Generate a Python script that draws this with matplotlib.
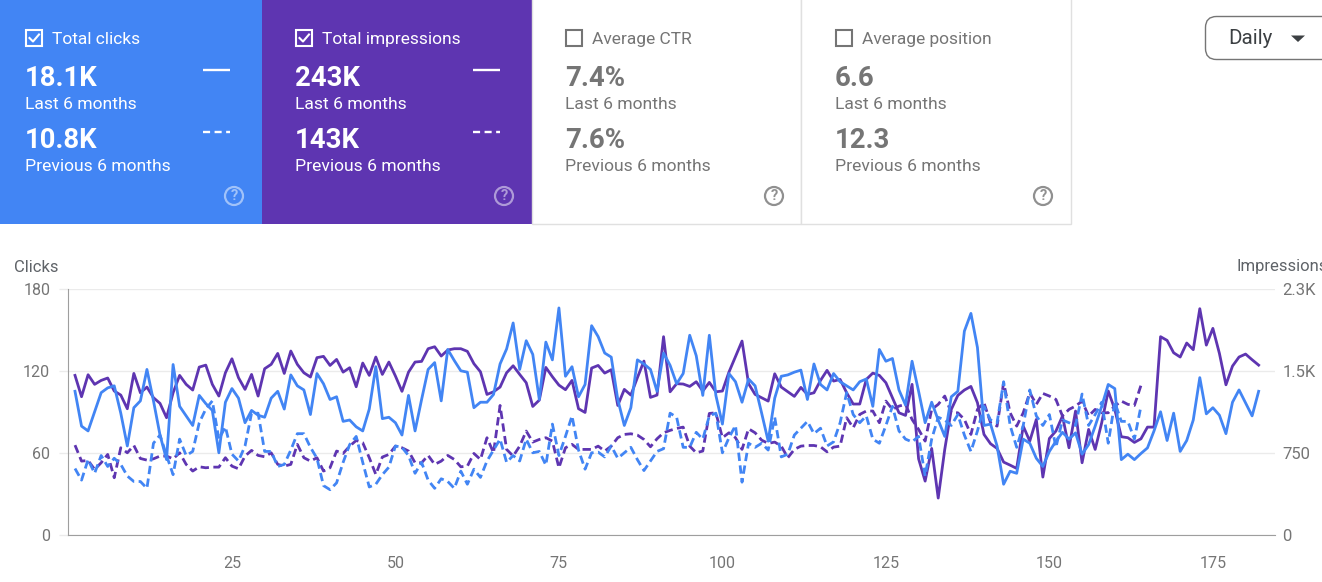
import matplotlib
matplotlib.use("Agg")
import matplotlib.pyplot as plt
from matplotlib.patches import Rectangle, FancyBboxPatch, Circle, Polygon

plt.rcParams['font.family'] = ['Roboto', 'DejaVu Sans']

W, H = 1322, 582

clicks_last = [105,79.5,76,90,104,107.5,109,89,65,93,98,121,98,73,55,124.6,94,87,80,102,96,91,60,97,107,100,82,91,87.5,86,
100,105,92,117,109,106,88,118,110.5,99,101,83,84,79,76,92,123,85,86,82,73,102,76,99,121,126,98,135.6,127.5,120,
119,93,97,97,102.7,125,136,155,121,142,132,99,141,128,166,116,123,101,110,153,145,133,130,99,80,93,128,125,121,105,
133,124,110.5,118,146,131,102,146,102,81,118,112,97,114,109,89,68.5,100,116,117,119,120.5,99,125,110,106,118,112,109,106,
112,114,94,135.6,127,129,106,95,127,105,82,97,84,72,101,105,149,162,137,80,81,65,37,46.5,45,70,67,56,50,61,
68.5,75,70,74.6,59,66,79.5,94,110,107,55,59,55,59.5,63.6,76,90,69,89,61,69,84,115,88.5,93,87.5,74,97,106,96.5,87,105]

impressions_last = [1458,1263,1464,1376,1412,1434,1315,1278,1153,1476,1299,1351,1254,1202,1071,1299,1458,1376,1324,1534,1552,1376,1269,1482,1610,1437,1330,1467,1269,1519,
1559,1659,1476,1681,1559,1482,1443,1620,1632,1549,1604,1488,1528,1354,1571,1458,1626,1467,1580,1452,1312,1488,1580,1586,1702,1720,1635,1690,1702,1702,
1678,1565,1491,1284,1308,1351,1482,1546,1467,1391,1174,1232,1531,1446,1369,1327,1412,1153,1119,1525,1549,1479,1510,1183,1330,1278,1437,1589,1257,1278,
1812,1308,1382,1379,1357,1400,1315,1394,1308,1315,1488,1629,1772,1382,1284,1254,1223,1473,1351,1308,1266,1348,1284,1299,1412,1504,1406,1421,1299,1196,
1196,1421,1479,1458,1391,1254,1116,1092,1376,695,491,790,336,781,1147,1275,1324,1357,1208,918,833,790,665,637,607,994,857,1055,528,881,
949,1086,796,1132,659,964,781,1025,1315,1147,897,888,845,878,985,985,1812,1778,1665,1626,1754,1693,2068,1735,1888,1659,1372,1543,1626,1653,1601,1552]

clicks_prev = [48.5,40,55,45,58,50,56,51.5,43,39,39,34,67,73,58,44,70,58,61,82,92,98,70,79,59,54,65,89,89,61,
61,50,51.5,62,74,74,64,56,36,33,38,53,66,72,53,35,37,44,49.5,65,64,58,45,53,40,34,41,39,34,46.6,
37,48,42,54,62,70,53,58,54,70,60,61,51,81,58,72,87,62,48,60,60.5,57,65,56,60,64,55,47,54,61,
63,89,86,64,64,75,70,87,89,60,71,80,38.5,67,64,67,62,86,57,59,73,78,83,74,78,65,68,82,104,88,
82,87,70,67,80,94,76,70,68,72,43,70,86,84,80,88,73,61,76,94,84,82,112,80,64,80,106,87,80,88,
64,84,82,80,103,80,88,97,67,97,83,83,70,94]

impressions_prev = [820,674,680,598,659,735,522,796,750,817,698,683,695,720,720,695,750,644,583,622,613,619,619,705,628,604,720,772,726,714,
750,644,628,644,827,705,674,705,583,613,766,744,811,863,842,705,552,711,735,811,796,766,659,659,726,644,674,726,689,622,
628,744,689,888,750,1183,781,720,811,949,848,872,888,857,613,796,827,781,781,781,811,766,811,888,918,924,912,872,805,878,
933,955,973,985,811,750,766,1110,1116,888,933,888,781,970,933,866,836,848,811,705,781,811,817,817,805,759,802,811,1071,979,
1101,1132,1132,1025,1223,1147,1177,1193,1055,964,857,1147,1193,1269,1116,1116,1055,918,1147,1208,1025,994,1391,1116,994,1116,1299,1193,1293,1269,
1238,1086,1147,1177,1223,1086,1147,1116,1116,1177,1223,1193,1183,1366]

clicks_ticks = [0, 60, 120, 180]
impr_ticks = [0, 750, 1500, 2250]
impr_labels = ['0', '750', '1.5K', '2.3K']
x_ticks = [25, 50, 75, 100, 125, 150, 175]

cards = ['Total clicks', 'Total impressions', 'Average CTR', 'Average position']
cur_vals = ['18.1K', '243K', '7.4%', '6.6']
prev_vals = ['10.8K', '143K', '7.6%', '12.3']

BLUE = '#4285F4'
PURPLE = '#5E35B1'
GRAY = '#757575'
TXT = '#5f6368'

fig = plt.figure(figsize=(W/100, H/100), dpi=100, facecolor='white')

# page overlay in pixel coordinates
bg = fig.add_axes([0, 0, 1, 1], zorder=0)
bg.set_xlim(0, W); bg.set_ylim(H, 0); bg.axis('off')

card_x = [0, 262, 532, 801]
card_w = [262, 270, 269, 270]
text_x = [25, 295, 565, 835]
for i, name in enumerate(cards):
    cx, cw, tx = card_x[i], card_w[i], text_x[i]
    sel = i < 2
    if sel:
        bg.add_patch(Rectangle((cx, 0), cw, 224, fc=[BLUE, PURPLE][i], ec='none'))
    else:
        bg.add_patch(Rectangle((cx, -2), cw, 225.5, fc='white', ec='#e0e0e0', lw=1))
    fg = 'white' if sel else GRAY
    bg.add_patch(Rectangle((tx+1, 29.5), 16, 16.5, fc='none', ec=fg, lw=1.5))
    if sel:
        bg.plot([tx+4.5, tx+8, tx+14], [38, 41.5, 34.5], color=fg, lw=1.5)
    bg.text(tx+27, 39.5, name, color=fg, fontsize=12.5, va='center', ha='left')
    bg.text(tx, 78, cur_vals[i], color=fg, fontsize=19.8, fontweight='bold', va='center')
    bg.text(tx, 104.5, 'Last 6 months', color=fg, fontsize=12.6, va='center')
    bg.text(tx, 140, prev_vals[i], color=fg, fontsize=19.8, fontweight='bold', va='center')
    bg.text(tx, 166.5, 'Previous 6 months', color=fg, fontsize=12.6, va='center')
    if sel:
        bg.plot([tx+178, tx+205], [70, 70], color='white', lw=1.7, solid_capstyle='butt')
        bg.plot([tx+178, tx+205], [132, 132], color='white', lw=1.7, ls=(0, (3.0, 1.9)), dash_capstyle='butt')
    qc = cx + 234 if i == 0 else cx + 242
    bg.add_patch(Circle((qc, 196), 9, fc='none', ec=fg, lw=1.6, alpha=0.5 if sel else 0.8))
    bg.text(qc, 196, '?', color=fg, alpha=0.5 if sel else 0.8, fontsize=10.5, fontweight='bold', ha='center', va='center')

# Daily button
bg.add_patch(FancyBboxPatch((1205.5, 16.5), 136, 43, boxstyle='round,pad=0,rounding_size=11',
                            fc='white', ec='#757575', lw=1, clip_on=True))
bg.text(1228, 38.5, 'Daily', color='#3c4043', fontsize=14.8, va='center', ha='left')
bg.add_patch(Polygon([[1291, 35.5], [1305, 35.5], [1298, 42]], fc='#3c4043', ec='none'))

# chart
L, R, T, B = 68, 1275, 288.8, 534.8
ax = fig.add_axes([L/W, 1-B/H, (R-L)/W, (B-T)/H], zorder=1)
ax.patch.set_alpha(0)
ax2 = ax.twinx()
ax.set_xlim(-0.07, 184.5)
ax.set_ylim(0, 180)
ax2.set_ylim(0, 2250)

days_cl = range(1, len(clicks_last)+1)
days_im = range(1, len(impressions_last)+1)
days_cp = range(1, len(clicks_prev)+1)
days_ip = range(1, len(impressions_prev)+1)

dash = (0, (3.0, 1.6))
ax2.plot(days_ip, impressions_prev, color=PURPLE, lw=2, ls=dash, dash_capstyle='butt', zorder=2)
ax.plot(days_cp, clicks_prev, color=BLUE, lw=2, ls=dash, dash_capstyle='butt', zorder=3)
ax2.plot(days_im, impressions_last, color=PURPLE, lw=2, zorder=4)
ax.plot(days_cl, clicks_last, color=BLUE, lw=2, zorder=5)
ax.set_zorder(ax2.get_zorder()+1)
ax.patch.set_visible(False)

ax.set_yticks(clicks_ticks)
ax.set_xticks(x_ticks)
ax2.set_yticks(impr_ticks)
ax2.set_yticklabels(impr_labels)
ax2.grid(axis='y', color='#ebebeb', lw=1)
ax2.set_axisbelow(True)
for a in (ax, ax2):
    for s in a.spines.values():
        s.set_visible(False)
ax.spines['left'].set_visible(True)
ax.spines['left'].set_color('#9e9e9e')
ax.spines['bottom'].set_visible(True)
ax.spines['bottom'].set_color('#9e9e9e')
ax.tick_params(axis='x', length=0, labelsize=11.5, labelcolor=GRAY, pad=15.5)
ax.tick_params(axis='y', length=6.8, width=1, color='#ebebeb', labelsize=11.5, labelcolor=GRAY, pad=6)
ax.yaxis.get_major_ticks()[0].tick1line.set_color('#9e9e9e')
ax2.tick_params(axis='y', length=0, labelsize=12, labelcolor=GRAY, pad=5.4)

bg.text(14, 267, 'Clicks', color=TXT, fontsize=12, va='center', ha='left')
bg.text(1236, 267, 'Impressions', color=TXT, fontsize=12, va='center', ha='left', clip_on=True)

fig.savefig('out.png', dpi=100)
